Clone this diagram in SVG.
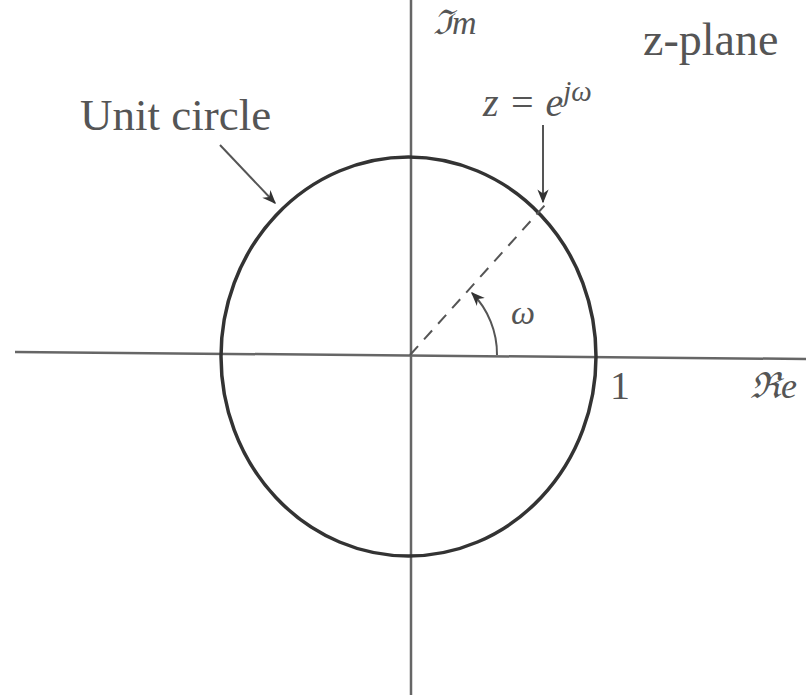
<svg xmlns="http://www.w3.org/2000/svg" width="806" height="695" viewBox="0 0 806 695">
<style>
.ax{stroke:#666;stroke-width:2.5;fill:none}
.cir{stroke:#333;stroke-width:3.5;fill:none}
.ln{stroke:#555;stroke-width:2;fill:none}
.t{font-family:"Liberation Serif",serif;fill:#555}
.m{font-family:"Liberation Serif",serif;font-style:italic;fill:#555}
</style>
<defs>
<marker id="ah2" viewBox="0 0 10 10" refX="9" refY="5" markerWidth="14" markerHeight="14" orient="auto" markerUnits="userSpaceOnUse">
<path d="M0,1 L10,5 L0,9 L3,5 Z" fill="#333"/>
</marker>
</defs>
<rect width="806" height="695" fill="#fff"/>
<g id="axes">
<line class="ax" x1="411" y1="0" x2="411" y2="695"/>
<line class="ax" x1="15" y1="352" x2="806" y2="359"/>
</g>
<g id="unit-circle">
<ellipse class="cir" cx="408.5" cy="356.5" rx="187.5" ry="199.5"/>
</g>
<g id="connectors">
<line class="ln" x1="410" y1="355" x2="545" y2="205" stroke-dasharray="12,9"/>
<line class="ln" x1="220" y1="145" x2="275" y2="203" marker-end="url(#ah2)"/>
<line class="ln" x1="543" y1="125" x2="543" y2="202" marker-end="url(#ah2)"/>
<path class="ln" d="M497,355 A87,87 0 0 0 472,293" marker-end="url(#ah2)"/>
</g>
<g id="labels">
<text class="m" x="433" y="34" font-size="34">ℑm</text>
<text class="t" x="643" y="55" font-size="46">z-plane</text>
<text class="t" x="80" y="130" font-size="45">Unit circle</text>
<text class="m" x="483" y="116" font-size="40">z = e<tspan dy="-15" font-size="29">jω</tspan></text>
<text class="m" x="511" y="324" font-size="34">ω</text>
<text class="t" x="610" y="399" font-size="40">1</text>
<text class="m" x="750" y="398" font-size="36">ℜe</text>
</g>
</svg>
